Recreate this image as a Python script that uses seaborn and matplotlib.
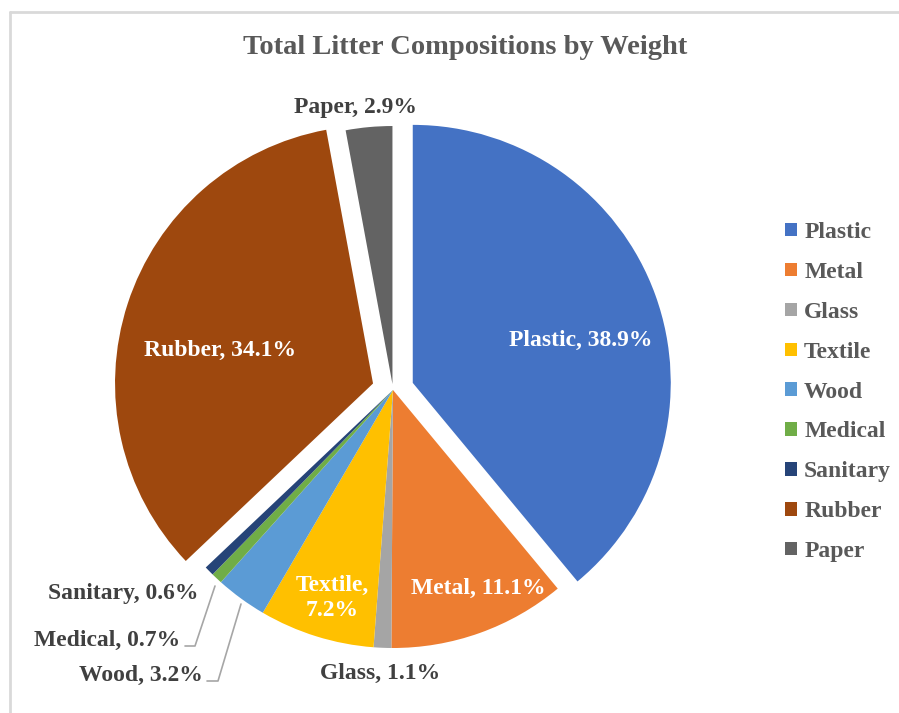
import matplotlib
matplotlib.use("Agg")
import matplotlib.pyplot as plt
import seaborn as sns
from matplotlib.patches import Patch
from matplotlib.lines import Line2D

# =====================================================
# DATA
# =====================================================
categories = ["Plastic", "Metal", "Glass", "Textile", "Wood",
              "Medical", "Sanitary", "Rubber", "Paper"]
shares = [38.9, 11.1, 1.1, 7.2, 3.2, 0.7, 0.6, 34.1, 2.9]
colors = ["#4472C4", "#ED7D31", "#A5A5A5", "#FFC000", "#5B9BD5",
          "#70AD47", "#264478", "#9E480E", "#636363"]
explode = [21, 0, 0, 0, 0, 0, 0, 21, 6]

# =====================================================
# STYLE
# =====================================================
sns.set_style("white")
plt.rcParams["font.family"] = ["Liberation Serif", "DejaVu Serif"]
plt.rcParams["font.weight"] = "bold"

W, H = 899, 713
fig = plt.figure(figsize=(W / 100, H / 100), dpi=100)
ax = fig.add_axes([0, 0, 1, 1])

# pixel helper (y measured from the top)
def py(y):
    return H - y

cx, cy, r = 393, py(390), 258

wedges, _ = ax.pie(
    shares,
    colors=colors,
    startangle=90,
    counterclock=False,
    center=(cx, cy),
    radius=r,
    explode=explode,
    wedgeprops=dict(linewidth=0),
)
ax.set_xlim(0, W)
ax.set_ylim(0, H)
ax.set_aspect("equal")
ax.axis("off")

# =====================================================
# LABELS
# =====================================================
dark = "#404040"
fs = 17

def lab(i):
    return f"{categories[i]}, {shares[i]:.1f}%"

ax.text(581, py(340), lab(0), color="white", fontsize=fs, ha="center", va="center")
ax.text(220, py(350), lab(7), color="white", fontsize=fs, ha="center", va="center")
ax.text(478, py(588), lab(1), color="white", fontsize=fs, ha="center", va="center")
ax.text(332, py(598), "Textile,\n7.2%", color="white", fontsize=fs,
        ha="center", va="center", linespacing=1.3)
ax.text(355, py(108), lab(8), color=dark, fontsize=fs, ha="center", va="center")
ax.text(380, py(673), lab(2), color=dark, fontsize=fs, ha="center", va="center")
ax.text(199, py(594), lab(6), color=dark, fontsize=fs, ha="right", va="center")
ax.text(180, py(640), lab(5), color=dark, fontsize=fs, ha="right", va="center")
ax.text(203, py(675), lab(4), color=dark, fontsize=fs, ha="right", va="center")

# leader lines
ax.plot([185, 195, 215], [py(646), py(646), py(586)], color="#A6A6A6", lw=1.2)
ax.plot([207, 218, 241], [py(681), py(681), py(604)], color="#A6A6A6", lw=1.2)

# =====================================================
# TITLE, LEGEND, BORDER
# =====================================================
ax.text(465, py(47), "Total Litter Compositions by Weight",
        color="#595959", fontsize=20.5, ha="center", va="center")

handles = [Patch(facecolor=c, edgecolor="none") for c in colors]
leg = fig.legend(
    handles, categories,
    loc="center left",
    bbox_to_anchor=(764 / W, py(392) / H),
    frameon=False,
    fontsize=fs,
    handlelength=0.5,
    handleheight=0.5,
    handletextpad=0.3,
    labelspacing=0.8,
)
for t in leg.get_texts():
    t.set_color("#595959")

fig.add_artist(Line2D([10 / W, 1], [py(12) / H, py(12) / H], color="#D9D9D9", lw=2))
fig.add_artist(Line2D([10 / W, 10 / W], [0, py(12) / H], color="#D9D9D9", lw=2))

fig.savefig("out.png", dpi=100)
plt.close(fig)
